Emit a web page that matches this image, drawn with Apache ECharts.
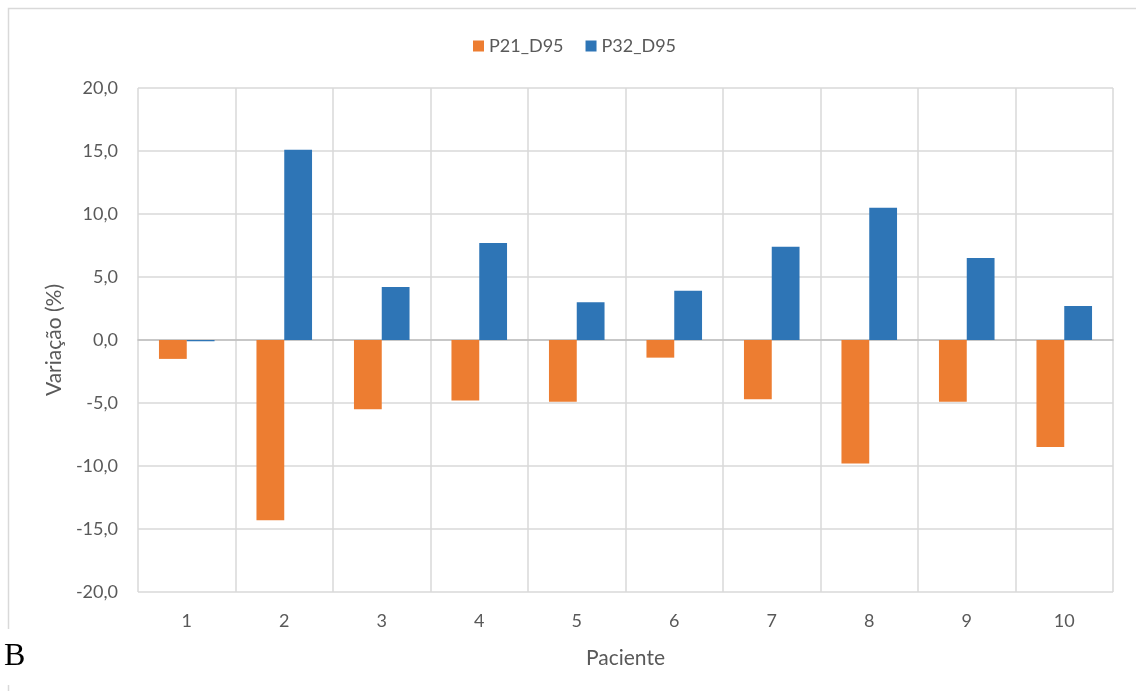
<!DOCTYPE html>
<html>
<head>
<meta charset="utf-8">
<script src="https://cdn.jsdelivr.net/npm/echarts@6/dist/echarts.min.js"></script>
<style>
  html, body { margin: 0; padding: 0; background: #fff; }
  #chart { width: 1136px; height: 691px; }
</style>
</head>
<body>
<div id="chart"></div>
<script>
// Patients on the category axis
const pacientes = ['1', '2', '3', '4', '5', '6', '7', '8', '9', '10'];
// Percentage variation of D95 per plan
const p21_d95 = [-1.5, -14.3, -5.5, -4.8, -4.9, -1.4, -4.7, -9.8, -4.9, -8.5];
const p32_d95 = [-0.1, 15.1, 4.2, 7.7, 3.0, 3.9, 7.4, 10.5, 6.5, 2.7];
const seriesNames = ['P21_D95', 'P32_D95'];

const FONT = 'Lato, "Open Sans", sans-serif';
const TEXT = '#595959';
const GRID = '#d9d9d9';
const chart = echarts.init(document.getElementById('chart'));

chart.setOption({
  animation: false,
  color: ['#ED7D31', '#2E75B6'],
  textStyle: { fontFamily: FONT },
  graphic: [
    // chart frame
    {
      type: 'rect',
      shape: { x: 8.5, y: 8.5, width: 1140, height: 700 },
      style: { fill: 'none', stroke: GRID, lineWidth: 1.5 },
      silent: true
    },
    // panel letter with its own white backing
    {
      type: 'rect',
      shape: { x: 0, y: 629, width: 40, height: 56 },
      style: { fill: '#ffffff' },
      silent: true
    },
    {
      type: 'text',
      left: 4,
      top: 641,
      style: { text: 'B', font: '32px "Liberation Serif", "Times New Roman", serif', fill: '#000' }
    }
  ],
  legend: {
    top: 32,
    left: 468,
    itemWidth: 11,
    itemHeight: 11,
    itemGap: 22,
    icon: 'rect',
    textStyle: { fontSize: 18, color: TEXT, fontFamily: FONT },
    data: seriesNames
  },
  grid: { left: 138, right: 23, top: 88, bottom: 99 },
  xAxis: {
    type: 'category',
    data: pacientes,
    name: 'Paciente',
    nameLocation: 'middle',
    nameGap: 56,
    nameTextStyle: { fontSize: 21, color: TEXT, fontFamily: FONT },
    axisLine: { onZero: true, lineStyle: { color: '#bfbfbf', width: 1.5 } },
    axisTick: { show: false },
    axisLabel: { fontSize: 18, color: TEXT, fontFamily: FONT, margin: 20 },
    splitLine: { show: true, lineStyle: { color: GRID, width: 1.5 } }
  },
  yAxis: {
    type: 'value',
    min: -20,
    max: 20,
    interval: 5,
    name: 'Variação (%)',
    nameLocation: 'middle',
    nameGap: 72,
    nameTextStyle: { fontSize: 21, color: TEXT, fontFamily: FONT },
    axisLine: { show: false },
    axisTick: { show: false },
    axisLabel: {
      fontSize: 18, color: TEXT, fontFamily: FONT, margin: 20,
      formatter: v => v.toFixed(1).replace('.', ',')
    },
    splitLine: { show: true, lineStyle: { color: GRID, width: 1.5 } }
  },
  series: [
    {
      name: seriesNames[0],
      type: 'bar',
      data: p21_d95,
      barGap: '0%',
      barCategoryGap: '43%'
    },
    {
      name: seriesNames[1],
      type: 'bar',
      data: p32_d95,
      barGap: '0%',
      barCategoryGap: '43%'
    }
  ]
});
</script>
</body>
</html>
